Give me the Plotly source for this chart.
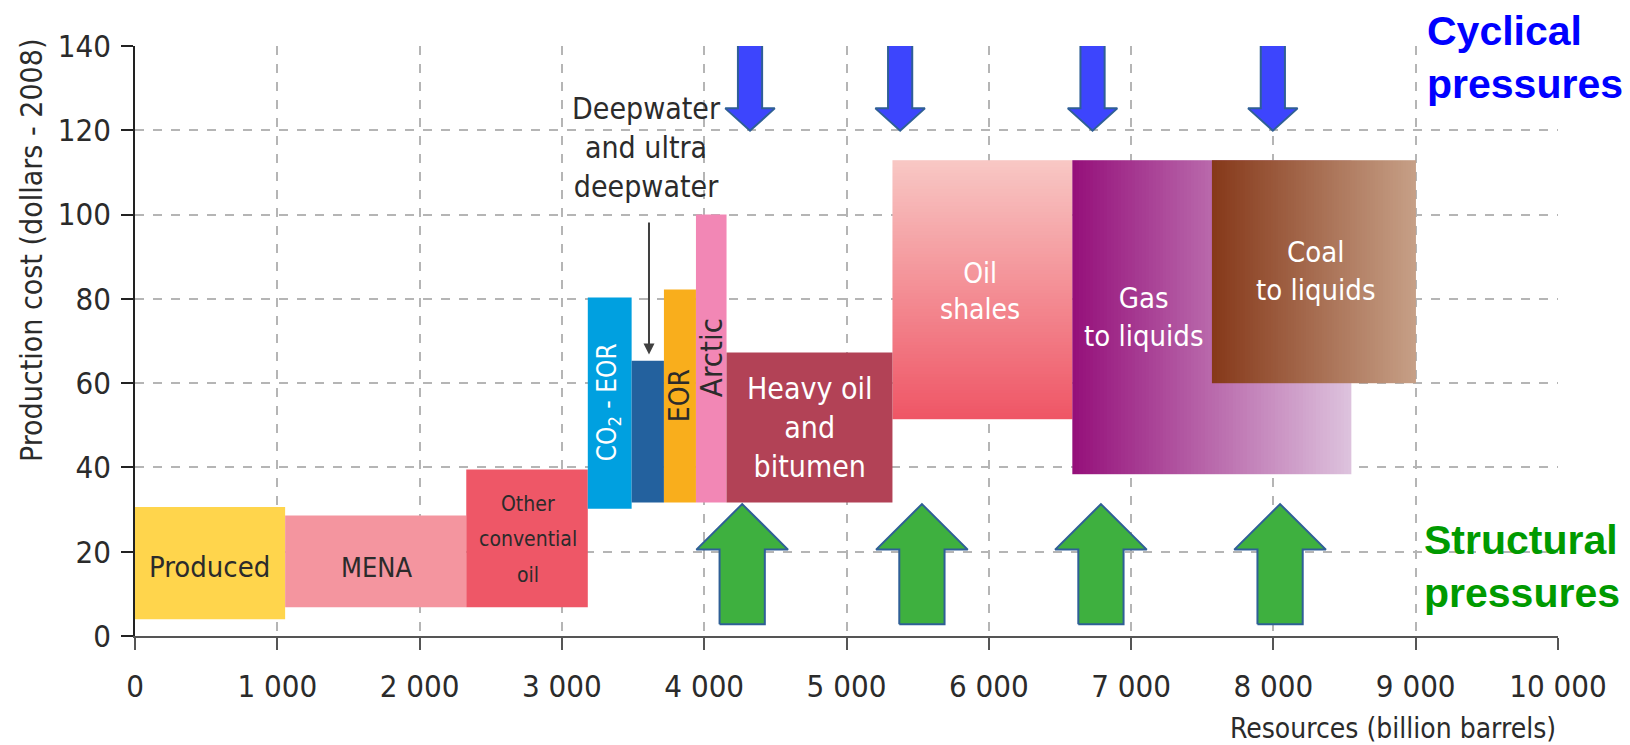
import numpy as np
import plotly.graph_objects as go

# ---- supply segments drawn as solid blocks ----
seg_names = ["Produced", "MENA", "Other conventional oil", "CO2 - EOR",
             "Deepwater and ultra deepwater", "EOR", "Arctic", "Heavy oil and bitumen"]
seg_start = [0, 1055, 2328, 3182, 3490, 3717, 3942, 4157]
seg_end = [1055, 2328, 3182, 3490, 3717, 3942, 4157, 5323]
seg_cost_low = [4.0, 6.8, 6.8, 30.2, 31.7, 31.7, 31.7, 31.7]
seg_cost_high = [30.6, 28.6, 39.5, 80.3, 65.3, 82.2, 100.0, 67.3]
seg_colors = ["#ffd54c", "#f4959f", "#ee5767", "#00a0e0", "#23619e",
              "#f9ae1c", "#f287b5", "#b24256"]

# ---- unconventional segments drawn with a colour gradient ----
grad_names = ["Oil shales", "Gas to liquids", "Coal to liquids"]
grad_start = [5323, 6587, 7568]
grad_end = [6587, 8545, 9000]
grad_cost_low = [51.5, 38.3, 60.0]
grad_cost_high = [112.9, 112.9, 112.9]
grad_direction = ["vertical", "horizontal", "horizontal"]
grad_colors = [("#ef5666", "#f8c7c4"), ("#95107a", "#ddc2dd"), ("#86391a", "#c69f86")]

# ---- pressure arrows (resource positions) ----
cyclical_x = [4322, 5377, 6729, 7996]
structural_x = [4267, 5530, 6788, 8047]

x_ticks = list(range(0, 10001, 1000))
x_tick_labels = ["0"] + [f"{v // 1000} 000" for v in x_ticks[1:]]
y_ticks = list(range(0, 141, 20))

TEXT = "#2b2b2b"
NARROW = "DejaVu Sans Condensed"
SANS = "Liberation Sans"

fig = go.Figure()

# gradient blocks as heatmaps with explicit brick edges
N = 80
for s, e, lo, hi, d, (c0, c1) in zip(grad_start, grad_end, grad_cost_low,
                                      grad_cost_high, grad_direction, grad_colors):
    ramp = np.linspace(0, 1, N)
    if d == "horizontal":
        fig.add_trace(go.Heatmap(
            x=np.linspace(s, e, N + 1), y=[lo, hi], z=[ramp],
            colorscale=[[0, c0], [1, c1]], zmin=0, zmax=1,
            showscale=False, hoverinfo="skip"))
    else:
        fig.add_trace(go.Heatmap(
            x=[s, e], y=np.linspace(lo, hi, N + 1), z=ramp.reshape(-1, 1),
            colorscale=[[0, c0], [1, c1]], zmin=0, zmax=1,
            showscale=False, hoverinfo="skip"))

# solid blocks as floating bars
fig.add_trace(go.Bar(
    x=[(a + b) / 2 for a, b in zip(seg_start, seg_end)],
    width=[b - a for a, b in zip(seg_start, seg_end)],
    base=seg_cost_low,
    y=[h - l for h, l in zip(seg_cost_high, seg_cost_low)],
    marker=dict(color=seg_colors, line=dict(width=0)),
    hovertext=seg_names, hoverinfo="text", showlegend=False))


def down_arrow(cx, top=140.6, neck=125.2, tip=119.9, shaft=85, head=174):
    xs = [cx - shaft, cx + shaft, cx + shaft, cx + head, cx, cx - head, cx - shaft, cx - shaft]
    ys = [top, top, neck, neck, tip, neck, neck, top]
    return xs, ys


def up_arrow(cx, bottom=2.8, neck=20.5, tip=31.3, shaft=159, head=322):
    xs = [cx - shaft, cx + shaft, cx + shaft, cx + head, cx, cx - head, cx - shaft, cx - shaft]
    ys = [bottom, bottom, neck, neck, tip, neck, neck, bottom]
    return xs, ys


for cx in cyclical_x:
    xs, ys = down_arrow(cx)
    fig.add_trace(go.Scatter(x=xs, y=ys, mode="lines", fill="toself",
                             fillcolor="#3d45fd", line=dict(color="#2f5f96", width=2),
                             hoverinfo="skip", showlegend=False))
for cx in structural_x:
    xs, ys = up_arrow(cx)
    fig.add_trace(go.Scatter(x=xs, y=ys, mode="lines", fill="toself",
                             fillcolor="#3eb03f", line=dict(color="#2f5f96", width=2),
                             hoverinfo="skip", showlegend=False))

annotations = [
    dict(x=527, y=16.3, text="Produced", font=dict(family=NARROW, size=29, color=TEXT)),
    dict(x=1694, y=16.3, text="MENA", font=dict(family=NARROW, size=27, color=TEXT)),
    dict(x=2760, y=31.4, text="Other", font=dict(family=NARROW, size=21, color=TEXT)),
    dict(x=2760, y=23.0, text="convential", font=dict(family=NARROW, size=21, color=TEXT)),
    dict(x=2760, y=14.5, text="oil", font=dict(family=NARROW, size=21, color=TEXT)),
    dict(x=3325, y=55.5, text="CO<sub>2</sub> - EOR", textangle=-90,
         font=dict(family=NARROW, size=26, color="white")),
    dict(x=3826, y=57.0, text="EOR", textangle=-90,
         font=dict(family=NARROW, size=28, color=TEXT)),
    dict(x=4050, y=66.0, text="Arctic", textangle=-90,
         font=dict(family=NARROW, size=31, color=TEXT)),
    dict(x=4740, y=49.4, text="Heavy oil<br>and<br>bitumen",
         font=dict(family=NARROW, size=30, color="white")),
    dict(x=5941, y=81.8, text="Oil<br>shales",
         font=dict(family=NARROW, size=28, color="white")),
    dict(x=7087, y=75.7, text="Gas<br>to liquids",
         font=dict(family=NARROW, size=29, color="white")),
    dict(x=8293, y=86.7, text="Coal<br>to liquids",
         font=dict(family=NARROW, size=29, color="white")),
    dict(x=3595, y=116.0, text="Deepwater<br>and ultra<br>deepwater",
         font=dict(family=NARROW, size=30, color=TEXT)),
    dict(x=9066, y=137.3, text="Cyclical<br>pressures", xanchor="left", align="left",
         font=dict(family=SANS, size=41, color="#0000ff", weight="bold")),
    dict(x=9045, y=16.5, text="Structural<br>pressures", xanchor="left", align="left",
         font=dict(family=SANS, size=41, color="#009a00", weight="bold")),
]
for a in annotations:
    a.setdefault("showarrow", False)
    a.setdefault("xref", "x")
    a.setdefault("yref", "y")

# pointer from the deepwater label to its block
annotations.append(dict(x=3612, y=66.8, ax=3612, ay=100.5, xref="x", yref="y",
                        axref="x", ayref="y", text=" ", showarrow=True,
                        arrowhead=2, arrowsize=1.1, arrowwidth=2,
                        arrowcolor="#404040", standoff=0))

# axis titles placed as free text so they can sit off-centre
annotations.append(dict(x=-0.0731, y=0.654, xref="paper", yref="paper",
                        xanchor="center", yanchor="middle", textangle=-90,
                        text="Production cost (dollars - 2008)", showarrow=False,
                        font=dict(family=NARROW, size=30, color=TEXT)))
annotations.append(dict(x=1.0, y=0, xref="paper", yref="paper", xanchor="right",
                        yanchor="top", yshift=-74, text="Resources (billion barrels)",
                        showarrow=False, font=dict(family=NARROW, size=28, color=TEXT)))

fig.update_layout(
    width=1630, height=745,
    margin=dict(l=135, r=72, t=46, b=109),
    paper_bgcolor="white", plot_bgcolor="white",
    barmode="overlay", showlegend=False,
    annotations=annotations,
    xaxis=dict(
        range=[0, 10000], tickvals=x_ticks, ticktext=x_tick_labels,
        showgrid=True, gridcolor="#b5b5b5", griddash="dash", gridwidth=1.5,
        zeroline=False, showline=True, linecolor="#555555", linewidth=2,
        ticks="outside", ticklen=12, tickwidth=2, tickcolor="#555555",
        tickfont=dict(family=NARROW, size=31, color=TEXT),
        ticklabelstandoff=10,
    ),
    yaxis=dict(
        range=[0, 140], tickvals=y_ticks,
        showgrid=True, gridcolor="#b5b5b5", griddash="dash", gridwidth=1.5,
        zeroline=False, showline=True, linecolor="#222222", linewidth=1.5,
        ticks="outside", ticklen=12, tickwidth=1.5, tickcolor="#222222",
        tickfont=dict(family=NARROW, size=31, color=TEXT),
        ticklabelstandoff=4,
    ),
)

fig.write_html("out.html")
